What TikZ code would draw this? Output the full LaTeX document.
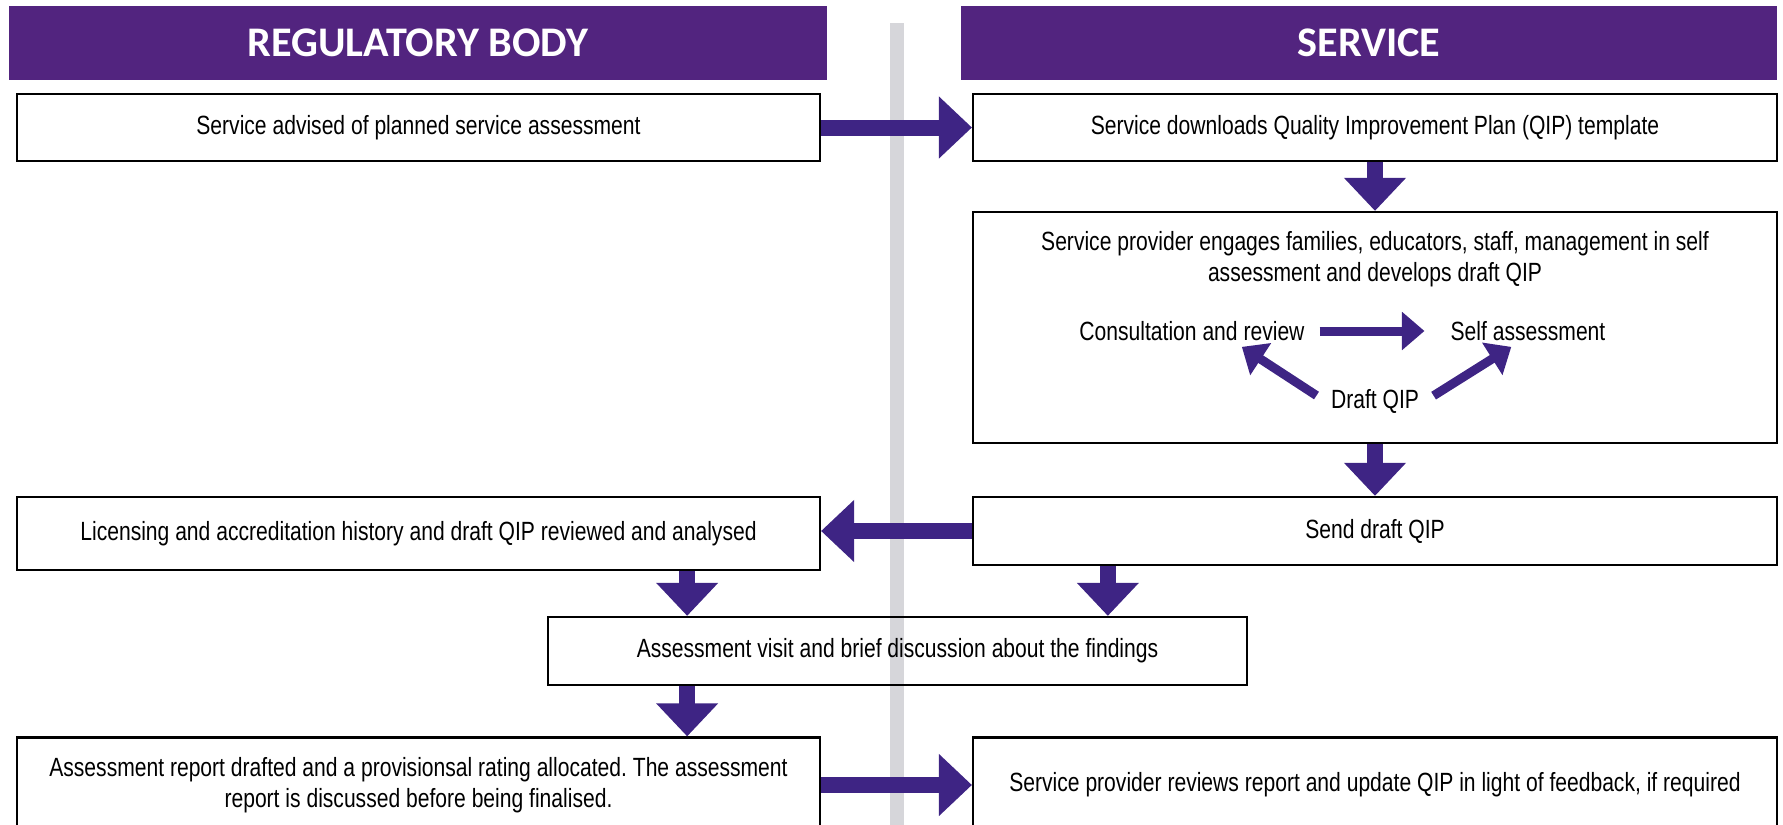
\documentclass[tikz,border=0pt]{standalone}
\usepackage{fontspec}
\setmainfont{Liberation Sans}[FakeStretch=0.8]
\newfontfamily\headfont{Carlito}
\usetikzlibrary{arrows.meta,positioning,calc}
\frenchspacing

\definecolor{headpurple}{RGB}{82,36,127}
\definecolor{arrowpurple}{RGB}{62,36,132}
\definecolor{laneline}{RGB}{214,214,218}

\begin{document}
\begin{tikzpicture}[
    x=0.02cm, y=-0.02cm,
    lane/.style={rectangle, fill=headpurple, text=white, font=\headfont\bfseries\fontsize{24}{28}\selectfont, minimum height=1.48cm},
    box/.style={rectangle, draw, line width=1.3pt, align=center, font=\fontsize{15}{18}\selectfont},
    note/.style={align=center, font=\fontsize{15}{18}\selectfont},
    fat/.style={-{Triangle[width=1.2cm,length=0.66cm]}, line width=0.32cm, draw=arrowpurple},
    slim/.style={-{Triangle[width=0.74cm,length=0.45cm]}, line width=0.18cm, draw=arrowpurple}
]
\useasboundingbox (0,0) rectangle (1783,825);

% lanes
\draw[laneline, line width=0.28cm] (897,23) -- (897,840);
\node[lane, minimum width=16.36cm] (reghead) at (418,43) {REGULATORY BODY};
\node[lane, minimum width=16.32cm] (svchead) at (1369,43) {SERVICE};

% boxes
\node[box, minimum width=16.06cm, minimum height=1.34cm] (advised) at (418.5,127.5) {Service advised of planned service assessment};
\node[box, minimum width=16.08cm, minimum height=1.34cm] (download) at (1375,127.5) {Service downloads Quality Improvement Plan (QIP) template};
\node[box, minimum width=16.08cm, minimum height=4.62cm] (engage) at (1375,327.5) {};
\node[note] (engagetext) at (1375,259) {Service provider engages families, educators, staff, management in self\\assessment and develops draft QIP};
\node[note] (consult) at (1192,331) {Consultation and review};
\node[note] (selfassess) at (1528,331) {Self assessment};
\node[note] (draftqip) at (1375,401) {Draft QIP};
\node[box, minimum width=16.08cm, minimum height=1.36cm] (send) at (1375,531) {Send draft QIP};
\node[box, minimum width=16.06cm, minimum height=1.46cm] (history) at (418.5,533.5) {Licensing and accreditation history and draft QIP reviewed and analysed};
\node[box, minimum width=13.98cm, minimum height=1.36cm] (visit) at (897.5,651) {Assessment visit and brief discussion about the findings};
\node[box, minimum width=16.06cm, minimum height=1.9cm] (report) at (418.5,785) {Assessment report drafted and a provisionsal rating allocated. The assessment\\report is discussed before being finalised.};
\node[box, minimum width=16.08cm, minimum height=1.9cm] (reviews) at (1375,785) {Service provider reviews report and update QIP in light of feedback, if required};

% arrows
\coordinate (visitL) at ($(visit.north west)!0.2!(visit.north east)$);
\coordinate (visitR) at ($(visit.north west)!0.8!(visit.north east)$);
\draw[fat] (advised) -- (download);
\draw[fat] (download) -- (engage);
\draw[fat] (engage) -- (send);
\draw[fat] (send.west) -- (send.west -| history.east);
\draw[fat] (history.south -| visitL) -- (visitL);
\draw[fat] (send.south -| visitR) -- (visitR);
\draw[fat] (visit.south -| visitL) -- (report.north -| visitL);
\draw[fat] (report) -- (reviews);

\draw[slim, shorten <=0.18cm, shorten >=0.4cm] (consult.east) -- (selfassess.west);
\draw[slim, shorten <=0.2cm] (draftqip.west) -- ($(consult.south east)!0.58!(consult.south)$);
\draw[slim, shorten <=0.2cm] (draftqip.east) -- ($(selfassess.south west)!0.8!(selfassess.south)$);

\end{tikzpicture}
\end{document}
